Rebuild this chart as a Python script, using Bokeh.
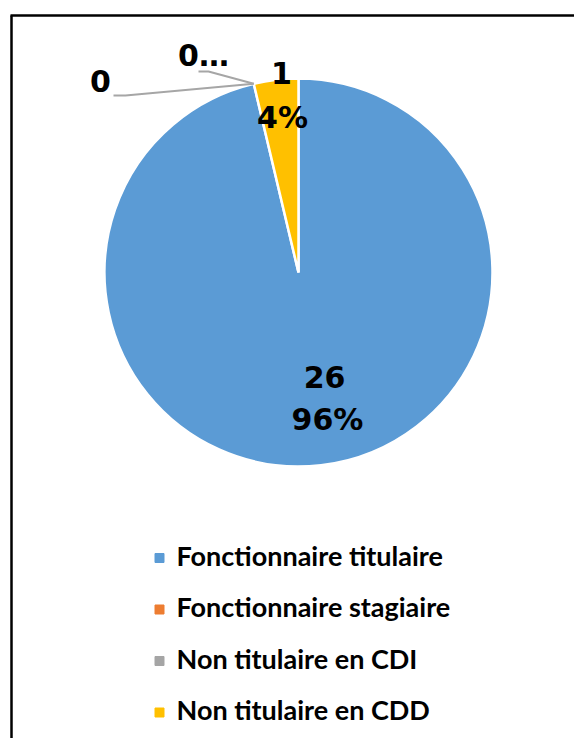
import math
from bokeh.plotting import figure
from bokeh.models import Range1d
from bokeh.core.properties import value
from bokeh.embed import file_html
from bokeh.resources import INLINE

# ---- data ----
categories = ["Fonctionnaire titulaire", "Fonctionnaire stagiaire",
              "Non titulaire en CDI", "Non titulaire en CDD"]
counts = [26, 0, 0, 1]
colors = ["#5B9BD5", "#ED7D31", "#A5A5A5", "#FFC000"]

total = sum(counts)
pcts = [round(100 * c / total) for c in counts]

# ---- layout (page pixel coordinates, y downward -> stored negative) ----
W, H = 574, 738
p = figure(width=W, height=H, output_backend="svg", toolbar_location=None,
           x_range=Range1d(0, W), y_range=Range1d(-H, 0),
           min_border=0, outline_line_color=None)
p.axis.visible = False
p.grid.visible = False
p.background_fill_color = "white"

# frame border (top and left visible)
p.multi_line(xs=[[10, 574], [11, 11]], ys=[[-15, -15], [-15, -738]],
             line_color="black", line_width=2.5)

cx, cy, R = 298, -272, 194

# pie wedges, start at 12 o'clock, clockwise
start = math.pi / 2
angles = []
for c in counts:
    end = start - 2 * math.pi * c / total
    angles.append((start, end))
    start = end

ws = [(a, b, col) for (a, b), col, c in zip(angles, colors, counts) if c > 0]
p.wedge(x=cx, y=cy, radius=R,
        start_angle=[w[0] for w in ws], end_angle=[w[1] for w in ws],
        direction="clock", fill_color=[w[2] for w in ws],
        line_color="white", line_width=2.5)

lab_font = value("DejaVu Sans")
FS = "30px"

# label layout: (value pos, pct pos or None)
label_pos = [((324, 376), (327, 419)),
             ((100, 80), None),
             ((203, 55), None),
             ((281, 72), (282, 117))]
leader_bends = [None, [(113, 95), (125, 95)], [(198, 71), (208, 71)], None]

for i, c in enumerate(counts):
    vpos, ppos = label_pos[i]
    txt = str(c)
    if i == 2:
        txt = str(c) + "\u2026"
    p.text(x=[vpos[0]], y=[-vpos[1]], text=[txt], text_font=lab_font,
           text_font_size=FS, text_font_style="bold", text_color="black",
           text_align="center", text_baseline="middle")
    if ppos is not None:
        p.text(x=[ppos[0]], y=[-ppos[1]], text=[f"{pcts[i]}%"], text_font=lab_font,
               text_font_size=FS, text_font_style="bold", text_color="black",
               text_align="center", text_baseline="middle")
    if leader_bends[i] is not None:
        a = angles[i][0]
        ax, ay = cx + R * math.cos(a), cy + R * math.sin(a)
        xs = [pt[0] for pt in leader_bends[i]] + [ax]
        ys = [-pt[1] for pt in leader_bends[i]] + [ay]
        p.line(x=xs, y=ys, line_color="#A6A6A6", line_width=2)

# legend
leg_x_sq, leg_x_txt = 159, 176
leg_y0, leg_dy = 557.5, 51.5
for i, (cat, col) in enumerate(zip(categories, colors)):
    yy = leg_y0 + i * leg_dy
    p.scatter(x=[leg_x_sq], y=[-yy], marker="square", size=9,
              fill_color=col, line_color=col)
    p.text(x=[leg_x_txt], y=[-(yy - 3)], text=[cat], text_font=value("Lato"),
           text_font_size="27px", text_font_style="bold", text_color="black",
           text_align="left", text_baseline="alphabetic")

open("out.html", "w").write(file_html(p, INLINE))
